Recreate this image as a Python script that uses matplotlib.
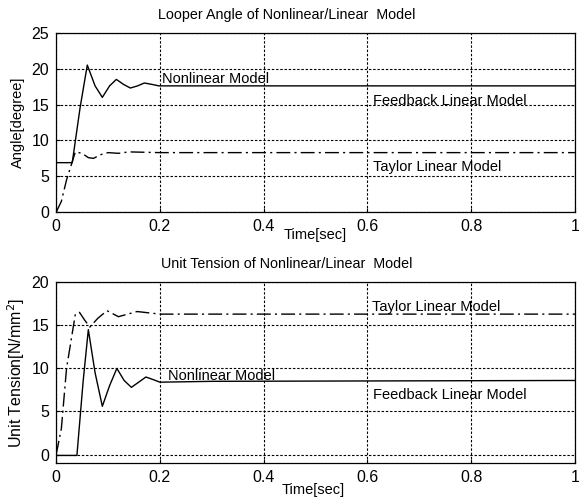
import matplotlib
matplotlib.use("Agg")
import matplotlib.pyplot as plt

plt.rcParams['font.family'] = ['Liberation Sans', 'DejaVu Sans']

# Looper angle (degree)
t_ang_nl = [0, 0.031, 0.046, 0.060, 0.075, 0.089, 0.103, 0.116, 0.130, 0.143, 0.157, 0.170, 0.185, 0.198, 0.3, 1.0]
ang_nl = [6.9, 6.9, 14.5, 20.5, 17.6, 16.0, 17.6, 18.5, 17.8, 17.3, 17.6, 18.0, 17.8, 17.6, 17.6, 17.6]
t_ang_ty = [0, 0.01, 0.02, 0.037, 0.05, 0.062, 0.072, 0.085, 0.10, 0.12, 0.14, 0.2, 1.0]
ang_ty = [0, 1.5, 4.5, 8.4, 8.2, 7.6, 7.5, 8.0, 8.3, 8.2, 8.4, 8.3, 8.3]

# Unit tension (N/mm^2)
t_ten_nl = [0, 0.040, 0.052, 0.062, 0.075, 0.089, 0.103, 0.117, 0.131, 0.145, 0.159, 0.173, 0.187, 0.2, 0.3, 1.0]
ten_nl = [-0.1, -0.1, 8.5, 14.5, 9.5, 5.6, 8.0, 10.0, 8.6, 7.8, 8.4, 9.0, 8.7, 8.4, 8.5, 8.6]
t_ten_ty = [0, 0.01, 0.02, 0.037, 0.045, 0.055, 0.065, 0.08, 0.098, 0.12, 0.156, 0.2, 1.0]
ten_ty = [0, 3.0, 10.0, 16.3, 16.5, 15.6, 14.8, 15.8, 16.7, 16.0, 16.6, 16.3, 16.3]

xticks = [0, 0.2, 0.4, 0.6, 0.8, 1]
xticklabels = ["0", "0.2", "0.4", "0.6", "0.8", "1"]

fig = plt.figure(figsize=(5.79, 5.04), dpi=100)
ax1 = fig.add_axes([0.097, 0.579, 0.896, 0.356])
ax2 = fig.add_axes([0.097, 0.081, 0.896, 0.359])

dashdot = (0, (10, 3, 1.5, 3))

def style(ax):
    ax.set_xlim(0, 1)
    ax.set_xticks(xticks)
    ax.set_xticklabels(xticklabels)
    ax.tick_params(direction='in', length=3, labelsize=11.5, colors='black', pad=5)
    ax.grid(True, color='black', linestyle=(0, (2.2, 1.6)), linewidth=0.8)
    for s in ax.spines.values():
        s.set_linewidth(0.9)

# top panel
ax1.plot(t_ang_nl, ang_nl, color='black', linewidth=1.0)
ax1.plot(t_ang_ty, ang_ty, color='black', linewidth=1.0, linestyle=dashdot)
ax1.set_ylim(0, 25)
ax1.set_yticks([0, 5, 10, 15, 20, 25])
style(ax1)
ax1.set_title("Looper Angle of Nonlinear/Linear  Model", fontsize=10.25, pad=10, x=0.445)
ax1.set_ylabel("Angle[degree]", fontsize=10.5, labelpad=5)
ax1.set_xlabel("Time[sec]", fontsize=10.5)
ax1.xaxis.set_label_coords(0.5, -0.09)
ax1.text(0.204, 18.0, "Nonlinear Model", fontsize=10.5)
ax1.text(0.611, 14.9, "Feedback Linear Model", fontsize=10.5)
ax1.text(0.611, 5.8, "Taylor Linear Model", fontsize=10.5)

# bottom panel
ax2.plot(t_ten_nl, ten_nl, color='black', linewidth=1.0)
ax2.plot(t_ten_ty, ten_ty, color='black', linewidth=1.0, linestyle=dashdot)
ax2.set_ylim(-1, 20)
ax2.set_yticks([0, 5, 10, 15, 20])
style(ax2)
ax2.set_title("Unit Tension of Nonlinear/Linear  Model", fontsize=10.25, pad=10, x=0.445)
ax2.set_ylabel("Unit Tension[N/mm$^2$]", fontsize=11.5, labelpad=3)
ax2.set_xlabel("Time[sec]", fontsize=10.5)
ax2.xaxis.set_label_coords(0.495, -0.11)
ax2.text(0.609, 16.7, "Taylor Linear Model", fontsize=10.5)
ax2.text(0.216, 8.7, "Nonlinear Model", fontsize=10.5)
ax2.text(0.611, 6.5, "Feedback Linear Model", fontsize=10.5)

fig.savefig("out.png", dpi=100)
